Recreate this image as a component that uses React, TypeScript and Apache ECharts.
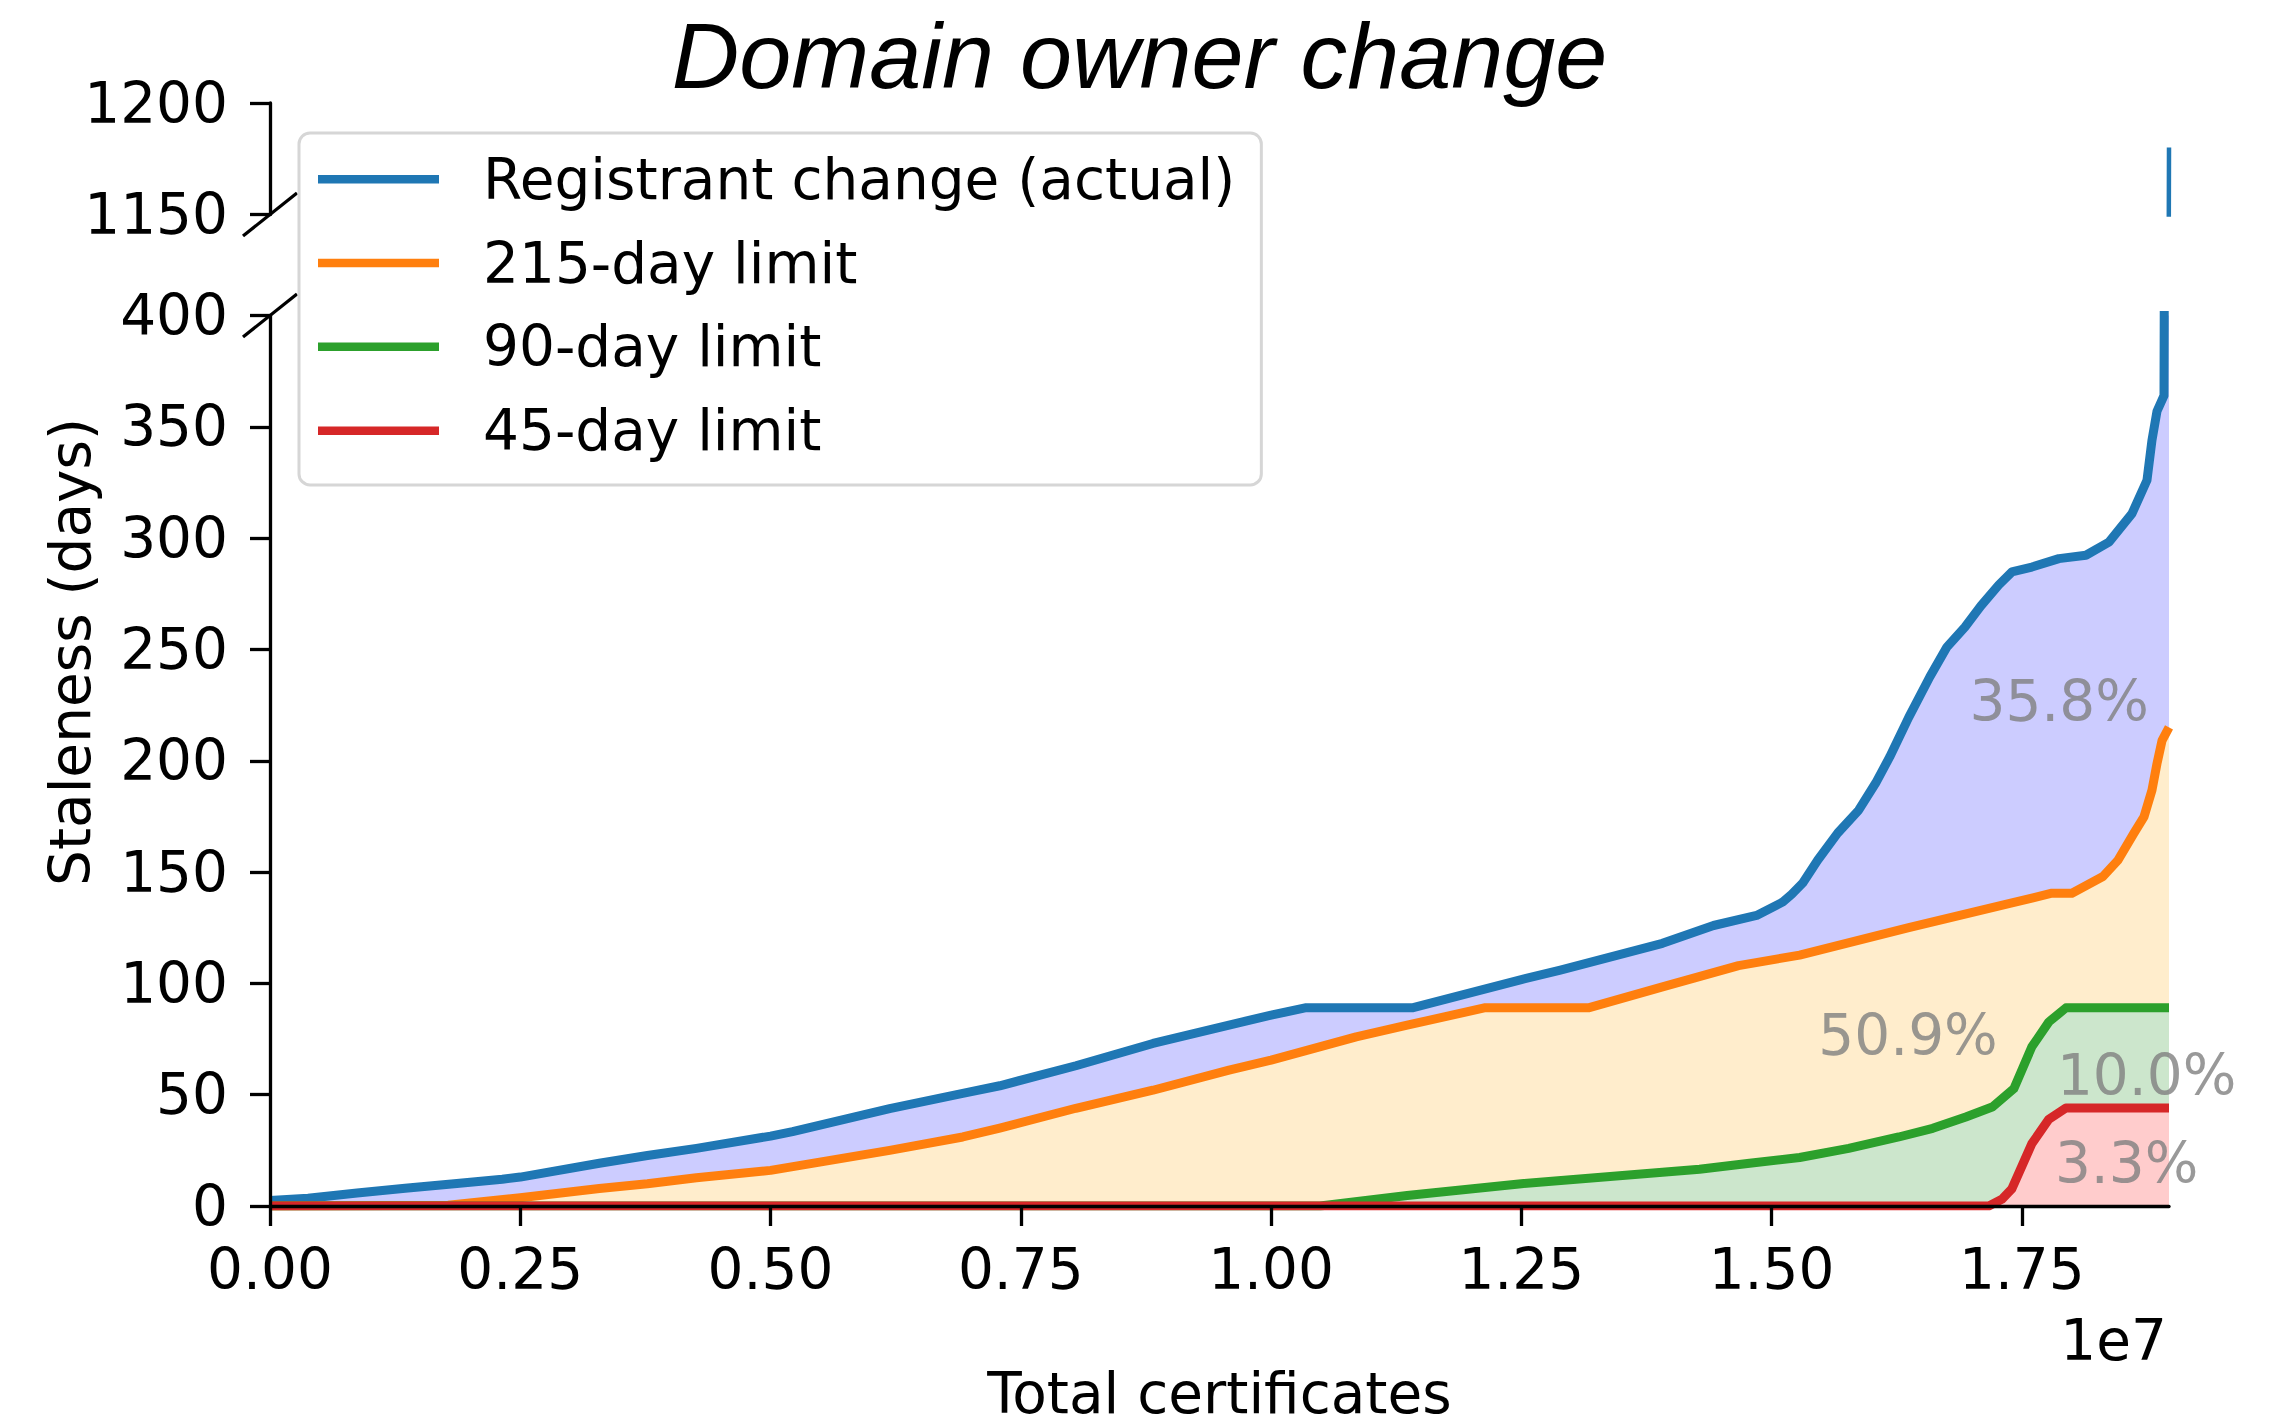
import React, { useEffect, useRef } from "react";
import * as echarts from "echarts";

// ---- data (x in units of 1e7 certificates, y in days) ----
const X_MAX = 1.897; // e7
const xTickValues = [0, 0.25, 0.5, 0.75, 1.0, 1.25, 1.5, 1.75];
const yTickValuesBottom = [0, 50, 100, 150, 200, 250, 300, 350, 400];
const yTickValuesTop = [1150, 1200];

const seriesNames = [
  "Registrant change (actual)",
  "215-day limit",
  "90-day limit",
  "45-day limit",
];

const registrantX = [0, 0.038, 0.087, 0.135, 0.184, 0.232, 0.25, 0.329, 0.377, 0.426, 0.5, 0.522, 0.619, 0.692, 0.729, 0.805, 0.882, 0.958, 1.0, 1.034, 1.141, 1.25, 1.289, 1.391, 1.442, 1.485, 1.511, 1.52, 1.531, 1.546, 1.566, 1.587, 1.604, 1.618, 1.637, 1.658, 1.675, 1.693, 1.709, 1.727, 1.74, 1.76, 1.787, 1.814, 1.837, 1.86, 1.875, 1.88, 1.885, 1.892, 1.897];
const registrantY = [2.5, 3.5, 5.8, 8, 10, 12, 13, 19.2, 22.7, 25.9, 31.4, 33.4, 43.7, 50.6, 54, 63, 73, 81.3, 85.7, 89, 89, 101.7, 106, 118, 126, 130.5, 136.5, 140, 145, 155.3, 167.5, 177.8, 190, 201.7, 219.5, 237.6, 251, 260, 269.5, 279, 284.8, 287, 290.8, 292.3, 298.2, 311, 326, 344, 357, 364, 1180];

const limit215X = [0, 0.178, 0.25, 0.329, 0.377, 0.426, 0.5, 0.619, 0.692, 0.729, 0.805, 0.882, 0.958, 1.0, 1.085, 1.136, 1.213, 1.317, 1.391, 1.467, 1.528, 1.637, 1.739, 1.78, 1.8, 1.831, 1.846, 1.862, 1.872, 1.88, 1.885, 1.89, 1.897];
const limit215Y = [0, 0.3, 3.7, 7.9, 10, 12.7, 16, 25, 31, 35, 43.9, 52, 61, 65.5, 76, 81.2, 89, 89, 98.4, 108, 112.7, 125, 136, 140.5, 140.5, 148, 155.3, 167.5, 174.8, 186.8, 198.7, 209, 215];

const limit90X = [0, 1.049, 1.136, 1.25, 1.391, 1.428, 1.478, 1.528, 1.577, 1.627, 1.661, 1.694, 1.721, 1.742, 1.76, 1.777, 1.794, 1.897];
const limit90Y = [0, 0, 4.7, 10, 15.2, 16.5, 19.2, 21.8, 25.9, 31, 34.9, 40, 44.6, 52.7, 71.5, 82.7, 89, 89];

const limit45X = [0, 1.717, 1.73, 1.74, 1.76, 1.777, 1.794, 1.897];
const limit45Y = [0, 0, 3, 7.7, 28, 39, 44, 44];

const pctLabels = ["35.8%", "50.9%", "10.0%", "3.3%"];
const pctX = [1.877, 1.726, 1.785, 1.783];
const pctY = [226.7, 76.8, 58.8, 18.9];
const pctAnchor = ["right", "right", "left", "left"];

// ---- styling ----
const FONT = "DejaVu Sans";
const FS = 56.5;
const lineColors = ["#1f77b4", "#ff7f0e", "#2ca02c", "#d62728"];
const fillColors = ["#ccccff", "#ffedcc", "#cce6cc", "#ffcccc"];

const GRID_LEFT = 270;
const GRID_W = 1899;
const BOT_TOP = 315.5;
const BOT_H = 890.5;
const TOP_TOP = 103;
const TOP_H = 111.5;

const toPairs = (xs: number[], ys: number[]) => xs.map((x, i) => [x * 1e7, ys[i]]);

export default function App() {
  const ref = useRef<HTMLDivElement>(null);

  useEffect(() => {
    if (!ref.current) return;
    const chart = echarts.init(ref.current, null, { renderer: "svg" });

    const xs = [registrantX, limit215X, limit90X, limit45X];
    const ys = [registrantY, limit215Y, limit90Y, limit45Y];

    const axisLineStyle = { color: "#000", width: 3.3 };
    const labelStyle = { fontFamily: FONT, fontSize: FS, color: "#000" };

    const areaSeries = xs.map((x, i) => ({
      type: "line",
      xAxisIndex: 0,
      yAxisIndex: 0,
      data: toPairs(x, ys[i]),
      showSymbol: false,
      symbol: "none",
      silent: true,
      lineStyle: { width: 0, opacity: 0 },
      areaStyle: { color: fillColors[i], opacity: 1 },
      z: 1,
    }));

    const lineSeries = xs.map((x, i) => ({
      name: seriesNames[i],
      type: "line",
      xAxisIndex: 0,
      yAxisIndex: 0,
      data: toPairs(x, ys[i]),
      showSymbol: false,
      symbol: "none",
      silent: true,
      color: lineColors[i],
      itemStyle: { color: lineColors[i] },
      lineStyle: { color: lineColors[i], width: 9, join: "round", cap: "butt" },
      z: 2,
    }));

    const topSeries = {
      type: "line",
      xAxisIndex: 1,
      yAxisIndex: 1,
      data: toPairs(registrantX, registrantY),
      showSymbol: false,
      symbol: "none",
      silent: true,
      lineStyle: { color: lineColors[0], width: 4.5 },
      z: 2,
    };

    const pctSeries = {
      type: "scatter",
      xAxisIndex: 0,
      yAxisIndex: 0,
      symbolSize: 1,
      silent: true,
      itemStyle: { color: "rgba(0,0,0,0)" },
      z: 6,
      data: pctLabels.map((t, i) => ({
        value: [pctX[i] * 1e7, pctY[i]],
        name: t,
        label: { align: pctAnchor[i] },
      })),
      label: {
        show: true,
        position: "inside",
        formatter: (p: any) => p.name,
        fontFamily: FONT,
        fontSize: FS,
        color: "#808080",
        verticalAlign: "middle",
      },
    };

    const breakLine = (cx: number, cy: number) => ({
      type: "line",
      z: 3,
      silent: true,
      shape: { x1: cx - 27, y1: cy + 21.5, x2: cx + 27, y2: cy - 21.5 },
      style: { stroke: "#000", lineWidth: 3.3 },
    });

    const option: any = {
      animation: false,
      backgroundColor: "#ffffff",
      grid: [
        { left: GRID_LEFT, top: BOT_TOP, width: GRID_W, height: BOT_H, outerBoundsMode: "none", containLabel: false },
        { left: GRID_LEFT, top: TOP_TOP, width: GRID_W, height: TOP_H, outerBoundsMode: "none", containLabel: false },
      ],
      xAxis: [
        {
          gridIndex: 0,
          type: "value",
          min: 0,
          max: X_MAX * 1e7,
          interval: 0.25e7,
          z: 5,
          axisLine: { show: true, onZero: false, lineStyle: axisLineStyle },
          axisTick: {
            show: true,
            length: 20,
            lineStyle: axisLineStyle,
            customValues: xTickValues.map((v) => v * 1e7),
          },
          axisLabel: {
            ...labelStyle,
            margin: 34.5,
            customValues: xTickValues.map((v) => v * 1e7),
            formatter: (v: number) => (v / 1e7).toFixed(2),
          },
          splitLine: { show: false },
          name: "Total certificates",
          nameLocation: "middle",
          nameGap: 187,
          nameTextStyle: { ...labelStyle, verticalAlign: "middle" },
        },
        {
          gridIndex: 1,
          type: "value",
          min: 0,
          max: X_MAX * 1e7,
          show: false,
        },
      ],
      yAxis: [
        {
          gridIndex: 0,
          type: "value",
          min: 0,
          max: 400,
          interval: 50,
          z: 5,
          axisLine: { show: true, lineStyle: axisLineStyle },
          axisTick: { show: true, length: 20, lineStyle: axisLineStyle, customValues: yTickValuesBottom },
          axisLabel: {
            ...labelStyle,
            margin: 42,
            customValues: yTickValuesBottom,
            formatter: (v: number) => String(v),
          },
          splitLine: { show: false },
        },
        {
          gridIndex: 1,
          type: "value",
          min: 1150,
          max: 1200,
          interval: 50,
          z: 5,
          axisLine: { show: true, lineStyle: axisLineStyle },
          axisTick: { show: true, length: 20, lineStyle: axisLineStyle, customValues: yTickValuesTop },
          axisLabel: {
            ...labelStyle,
            margin: 42,
            customValues: yTickValuesTop,
            formatter: (v: number) => String(v),
          },
          splitLine: { show: false },
        },
      ],
      legend: {
        data: seriesNames,
        orient: "vertical",
        left: 299,
        top: 133,
        padding: [17.75, 26, 25.75, 19],
        itemWidth: 121,
        itemHeight: 8.5,
        itemGap: 26.8,
        icon: "rect",
        selectedMode: false,
        backgroundColor: "rgba(255,255,255,0.8)",
        borderColor: "#d6d6d6",
        borderWidth: 3,
        borderRadius: 11,
        z: 10,
        textStyle: { ...labelStyle, lineHeight: FS, padding: [0, 0, 0, 39] },
      },
      graphic: [
        breakLine(GRID_LEFT, TOP_TOP + TOP_H),
        breakLine(GRID_LEFT, BOT_TOP),
        {
          type: "text",
          x: 1139.5,
          y: 55,
          silent: true,
          style: {
            text: "Domain owner change",
            fontFamily: "Liberation Sans",
            fontStyle: "italic",
            fontSize: 93.5,
            fill: "#000",
            align: "center",
            verticalAlign: "middle",
          },
        },
        {
          type: "text",
          x: 70,
          y: 652,
          rotation: Math.PI / 2,
          silent: true,
          style: {
            text: "Staleness (days)",
            fontFamily: FONT,
            fontSize: FS,
            fill: "#000",
            align: "center",
            verticalAlign: "middle",
          },
        },
        {
          type: "text",
          x: 2167,
          y: 1340,
          silent: true,
          style: {
            text: "1e7",
            fontFamily: FONT,
            fontSize: FS,
            fill: "#000",
            align: "right",
            verticalAlign: "middle",
          },
        },
      ],
      series: [...areaSeries, ...lineSeries, topSeries, pctSeries],
    };

    chart.setOption(option);
    return () => chart.dispose();
  }, []);

  return (
    <div
      ref={ref}
      style={{ position: "fixed", left: 0, top: 0, width: 2279, height: 1426, background: "#fff" }}
    />
  );
}
